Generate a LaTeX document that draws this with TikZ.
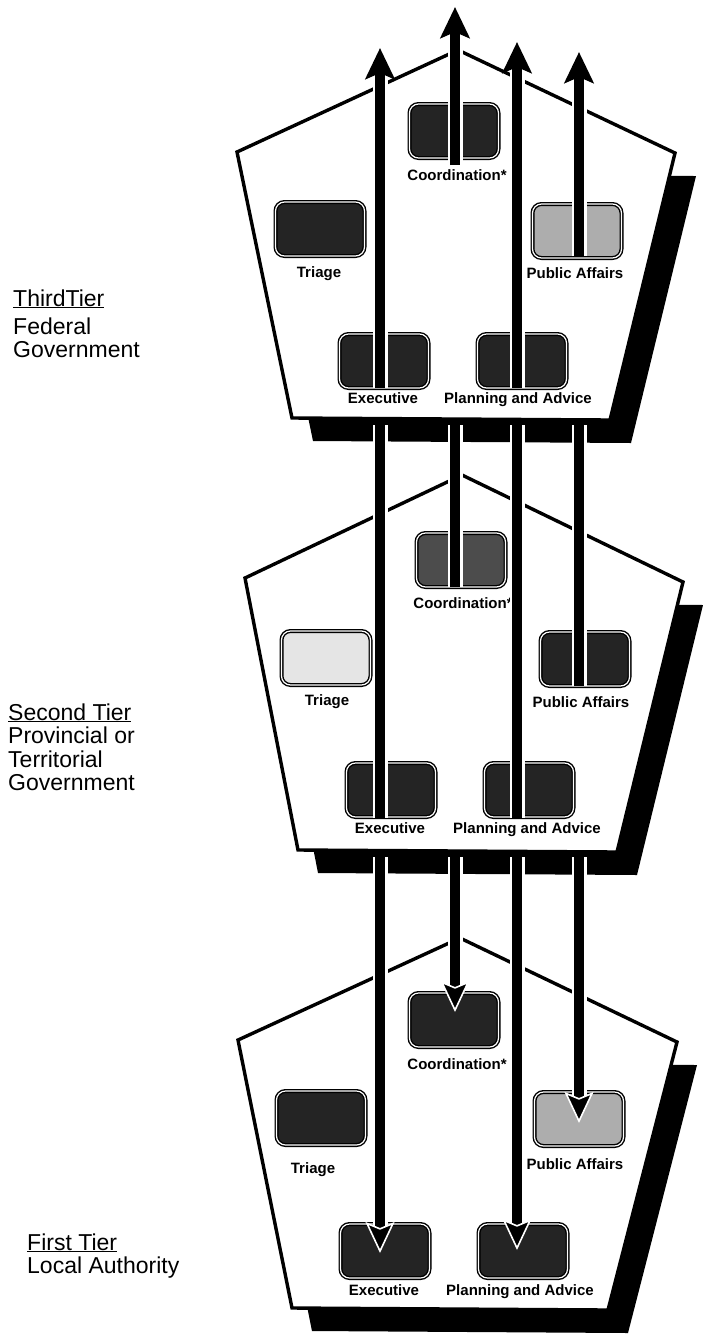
\documentclass[tikz,border=0pt]{standalone}
\usepackage{fontspec}
\setmainfont{Liberation Sans}
\usetikzlibrary{arrows.meta,calc}

\tikzset{
  body/.style={fill=white, draw=black, line width=3.4pt, line join=miter},
  drop/.style={fill=black},
  unit/.style={draw=black, double=white, line width=1.4pt, double distance=1.2pt,
    rounded corners=9pt, minimum width=89pt, minimum height=54pt, inner sep=0pt},
  darkunit/.style={unit, fill=black!86},
  midunit/.style={unit, fill=black!70},
  paleunit/.style={unit, fill=black!32},
  faintunit/.style={unit, fill=black!10},
  unitlabel/.style={font=\bfseries\fontsize{15}{15}\selectfont, anchor=base, inner sep=0pt},
  tierlabel/.style={anchor=base west, inner sep=0pt, font=\fontsize{23}{23}\selectfont},
  casing/.style={draw=white, line width=15pt},
  flow/.style={draw=black, line width=9.5pt},
  UpHead/.tip={Stealth[length=31pt,width=29pt,inset=6pt]},
  DownHead/.tip={Stealth[length=31pt,width=29pt,inset=6pt,color=white,fill=black,line width=1.6pt]},
}

\begin{document}
\begin{tikzpicture}[x=1pt, y=-1pt]
\useasboundingbox (0,0) rectangle (702,1342);

% ---------- third tier: federal government ----------
\coordinate (t3a)  at (458,50);
\coordinate (t3l)  at (237,152);
\coordinate (t3r)  at (675,153);
\coordinate (t3br) at (610,420);
\coordinate (t3bl) at (292,418);
\fill[drop] ($(t3l)+(21,23)$) -- ($(t3r)+(21,23)$) -- ($(t3br)+(21,23)$) -- ($(t3bl)+(21,23)$) -- cycle;
\draw[body] (t3a) -- (t3r) -- (t3br) -- (t3bl) -- (t3l) -- cycle;

\node[darkunit] (co3) at (454,131) {};
\node[darkunit] (tr3) at (320,229) {};
\node[paleunit] (pa3) at (577,231) {};
\node[darkunit] (ex3) at (384,361) {};
\node[darkunit] (pl3) at (522,361) {};
\node[unitlabel] (co3t) at (457,180) {Coordination*};
\node[unitlabel] (tr3t) at (319,277) {Triage};
\node[unitlabel] (pa3t) at (575,278) {Public Affairs};
\node[unitlabel] (ex3t) at (383,403) {Executive};
\node[unitlabel] (pl3t) at (518,403) {Planning and Advice};

% ---------- second tier: provincial or territorial government ----------
\coordinate (t2a)  at (462,475);
\coordinate (t2l)  at (245,578);
\coordinate (t2r)  at (683,582);
\coordinate (t2br) at (617,852);
\coordinate (t2bl) at (298,850);
\fill[drop] ($(t2l)+(20,23)$) -- ($(t2r)+(20,23)$) -- ($(t2br)+(20,23)$) -- ($(t2bl)+(20,23)$) -- cycle;
\draw[body] (t2a) -- (t2r) -- (t2br) -- (t2bl) -- (t2l) -- cycle;

\node[midunit]   (co2) at (461,560) {};
\node[faintunit] (tr2) at (326,658) {};
\node[darkunit]  (pa2) at (585,659) {};
\node[darkunit]  (ex2) at (391,790) {};
\node[darkunit]  (pl2) at (529,790) {};
\node[unitlabel] (co2t) at (463,608) {Coordination*};
\node[unitlabel] (tr2t) at (327,705) {Triage};
\node[unitlabel] (pa2t) at (581,707) {Public Affairs};
\node[unitlabel] (ex2t) at (390,833) {Executive};
\node[unitlabel] (pl2t) at (527,833) {Planning and Advice};

% ---------- first tier: local authority ----------
\coordinate (t1a)  at (460,938);
\coordinate (t1l)  at (238,1040);
\coordinate (t1r)  at (677,1042);
\coordinate (t1br) at (608,1310);
\coordinate (t1bl) at (292,1308);
\fill[drop] ($(t1l)+(20,23)$) -- ($(t1r)+(20,23)$) -- ($(t1br)+(20,23)$) -- ($(t1bl)+(20,23)$) -- cycle;
\draw[body] (t1a) -- (t1r) -- (t1br) -- (t1bl) -- (t1l) -- cycle;

\node[darkunit] (co1) at (454,1020) {};
\node[darkunit] (tr1) at (321,1118) {};
\node[paleunit] (pa1) at (579,1119) {};
\node[darkunit] (ex1) at (385,1251) {};
\node[darkunit] (pl1) at (523,1251) {};
\node[unitlabel] (co1t) at (457,1069) {Coordination*};
\node[unitlabel] (tr1t) at (313,1173) {Triage};
\node[unitlabel] (pa1t) at (575,1169) {Public Affairs};
\node[unitlabel] (ex1t) at (384,1295) {Executive};
\node[unitlabel] (pl1t) at (520,1295) {Planning and Advice};

% ---------- tier captions ----------
\node[tierlabel] (cap3) at (13,306)
  {\begin{tabular}[t]{@{}l@{}}\underline{ThirdTier}\\[5pt] Federal\\ Government\end{tabular}};
\node[tierlabel] (cap2) at (8,720)
  {\begin{tabular}[t]{@{}l@{}}\underline{Second Tier}\\ Provincial or\\ Territorial\\ Government\end{tabular}};
\node[tierlabel] (cap1) at (27,1250)
  {\begin{tabular}[t]{@{}l@{}}\underline{First Tier}\\ Local Authority\end{tabular}};

% ---------- channel end points ----------
% columns: executive x=380, coordination x=455, planning x=517, public affairs x=579
\coordinate (ex3src) at (380,388);  \coordinate (ex3out) at (380,48);
\coordinate (co3src) at (455,165);  \coordinate (co3out) at (455,7);
\coordinate (pl3src) at (517,388);  \coordinate (pl3out) at (517,42);
\coordinate (pa3src) at (579,256);  \coordinate (pa3out) at (579,52);

\coordinate (ex2src) at (380,818);  \coordinate (ex2out) at (380,425);
\coordinate (co2src) at (455,587);  \coordinate (co2out) at (455,425);
\coordinate (pl2src) at (517,818);  \coordinate (pl2out) at (517,425);
\coordinate (pa2src) at (579,686);  \coordinate (pa2out) at (579,425);

\coordinate (ex1in) at (380,857);   \coordinate (ex1end) at (380,1253);
\coordinate (co1in) at (455,857);   \coordinate (co1end) at (455,1012);
\coordinate (pl1in) at (517,857);   \coordinate (pl1end) at (517,1250);
\coordinate (pa1in) at (579,857);   \coordinate (pa1end) at (579,1123);

% ---------- upward channels leaving the third tier ----------
\foreach \c in {ex3,co3,pl3,pa3}{
  \draw[casing, shorten >=26pt] (\c src) -- (\c out);
  \draw[flow, -{UpHead}] (\c src) -- (\c out);
}

% ---------- channels from the second tier up to the third ----------
\foreach \c in {ex2,co2,pl2,pa2}{
  \draw[casing] (\c src) -- (\c out);
  \draw[flow] (\c src) -- (\c out);
}

% ---------- channels from the second tier down to the first ----------
\foreach \c in {ex1,co1,pl1,pa1}{
  \draw[casing, shorten >=26pt] (\c in) -- (\c end);
  \draw[flow, -{DownHead}] (\c in) -- (\c end);
}
\end{tikzpicture}
\end{document}
